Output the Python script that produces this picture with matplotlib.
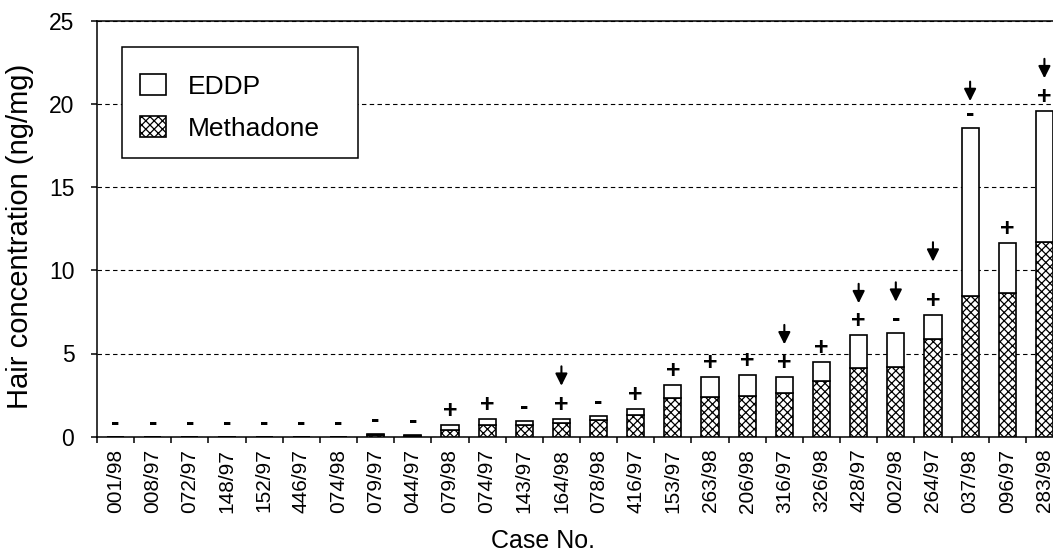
import matplotlib
matplotlib.use("Agg")
import matplotlib.pyplot as plt
from matplotlib.patches import Rectangle
import numpy as np

plt.rcParams['font.family'] = ['Liberation Sans', 'DejaVu Sans']
plt.rcParams['hatch.linewidth'] = 0.9
plt.rcParams['hatch.color'] = 'black'

cases = ['001/98', '008/97', '072/97', '148/97', '152/97', '446/97', '074/98',
         '079/97', '044/97', '079/98', '074/97', '143/97', '164/98', '078/98',
         '416/97', '153/97', '263/98', '206/98', '316/97', '326/98', '428/97',
         '002/98', '264/97', '037/98', '096/97', '283/98']
methadone = [0, 0, 0, 0, 0, 0, 0, 0.08, 0.06, 0.42, 0.68, 0.70, 0.80, 1.00,
             1.30, 2.31, 2.37, 2.47, 2.61, 3.37, 4.11, 4.21, 5.89, 8.44, 8.62, 11.68]
eddp = [0, 0, 0, 0, 0, 0, 0, 0.07, 0.06, 0.26, 0.40, 0.26, 0.25, 0.24,
        0.35, 0.82, 1.24, 1.22, 1.00, 1.10, 2.02, 2.00, 1.41, 10.09, 3.00, 7.91]
signs = ['-', '-', '-', '-', '-', '-', '-', '-', '-', '+', '+', '-', '+', '-',
         '+', '+', '+', '+', '+', '+', '+', '-', '+', '-', '+', '+']
# arrow tip heights (ng/mg scale); None = no arrow
arrow_tips = [None] * 12 + [3.06, None, None, None, None, None, 5.55, None,
                            8.02, 8.11, 10.52, 20.17, None, 21.54]
yticks = [0, 5, 10, 15, 20, 25]

W, H = 1053, 554
fig = plt.figure(figsize=(W / 100, H / 100), dpi=100)
ax_l, ax_r, ax_t, ax_b = 97, 1063, 20.7, 436.7
ax = fig.add_axes([ax_l / W, (H - ax_b) / H, (ax_r - ax_l) / W, (ax_b - ax_t) / H])

x = np.arange(len(cases))
bw = 0.46
ax.bar(x, methadone, bw, color='white', edgecolor='black', hatch='xxxx',
       linewidth=1.2, label='Methadone', zorder=3)
ax.bar(x, eddp, bw, bottom=methadone, color='white', edgecolor='black',
       linewidth=1.2, label='EDDP', zorder=3)

totals = np.array(methadone) + np.array(eddp)
for i, s in enumerate(signs):
    ax.annotate(s, xy=(x[i], totals[i]), xytext=(0, 10), textcoords='offset points',
                ha='center', va='center', fontsize=18, fontweight='bold', zorder=5)
    if arrow_tips[i] is not None:
        ax.annotate('', xy=(x[i], arrow_tips[i]), xytext=(0, 14),
                    textcoords='offset points',
                    arrowprops=dict(arrowstyle='-|>', color='black', lw=1.5,
                                    mutation_scale=18, shrinkA=0, shrinkB=0),
                    zorder=5)

ax.set_xlim(-0.5, len(cases) - 0.5)
ax.set_ylim(0, 25)
ax.set_yticks(yticks)
ax.set_yticklabels([str(v) for v in yticks], fontsize=16.5)
ax.set_xticks(x)
ax.set_xticklabels(cases, rotation=90, fontsize=15)
ax.set_xticks(np.arange(len(cases) + 1) - 0.5, minor=True)
ax.tick_params(axis='x', which='major', length=0, pad=8.6)
ax.tick_params(axis='x', which='minor', length=4.3, width=1.1, direction='out')
ax.tick_params(axis='y', length=4.3, width=1.1, direction='out', pad=12)

for sp in ['left', 'bottom', 'top', 'right']:
    ax.spines[sp].set_linewidth(1.1)

ax.set_axisbelow(True)
ax.yaxis.grid(True, linestyle=(0, (4, 3)), linewidth=0.8, color='black')

# legend frame drawn separately (reference frame is asymmetric)
fig.patches.append(Rectangle((122 / W, 1 - 158 / H), (358 - 122) / W, (158 - 47) / H,
                             transform=fig.transFigure, facecolor='white',
                             edgecolor='black', linewidth=1.1, zorder=6))
handles, labels = ax.get_legend_handles_labels()
leg = fig.legend(handles[::-1], labels[::-1], loc='upper left',
                 bbox_to_anchor=(140 / W, 1 - 74 / H),
                 borderaxespad=0, borderpad=0, fontsize=19, frameon=False,
                 handlelength=1.0, handleheight=0.85,
                 handletextpad=0.8, labelspacing=0.66)
leg.set_zorder(7)

fig.text(20 / W, 1 - 236 / H, 'Hair concentration (ng/mg)', rotation=90,
         ha='center', va='center', fontsize=21)
fig.text(543 / W, 1 - 541 / H, 'Case No.', ha='center', va='center', fontsize=18)

fig.savefig('out.png', dpi=100)
